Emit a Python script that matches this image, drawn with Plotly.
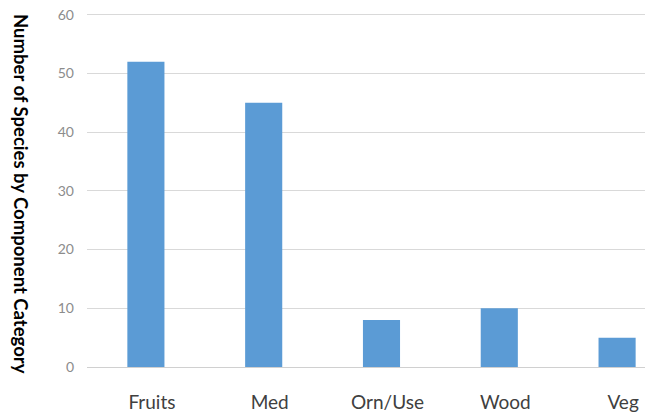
import plotly.graph_objects as go

categories = ["Fruits", "Med", "Orn/Use", "Wood", "Veg"]
species_counts = [52, 45, 8, 10, 5]
y_ticks = [0, 10, 20, 30, 40, 50, 60]

FIG_W, FIG_H = 645, 413
M_L, M_R, M_T, M_B = 87, 0, 13, 46
plot_w = FIG_W - M_L - M_R
plot_h = FIG_H - M_T - M_B

fig = go.Figure(
    go.Bar(
        x=categories,
        y=species_counts,
        marker=dict(color="#5b9bd5", line=dict(width=0)),
        width=0.315,
    )
)

fig.update_layout(
    width=FIG_W,
    height=FIG_H,
    margin=dict(l=M_L, r=M_R, t=M_T, b=M_B),
    paper_bgcolor="white",
    plot_bgcolor="white",
    showlegend=False,
    font=dict(family="Lato", color="#595959"),
    xaxis=dict(
        type="category",
        range=[-0.5, 4.237],
        showgrid=False,
        showline=False,
        ticks="",
        tickfont=dict(size=19, color="#404040"),
        ticklabelstandoff=22,
        ticklabelshift=6,
    ),
    yaxis=dict(
        range=[0, 60.3],
        tickvals=y_ticks,
        showgrid=True,
        gridcolor="#d9d9d9",
        gridwidth=1,
        zeroline=True,
        zerolinecolor="#d0d0d0",
        zerolinewidth=1,
        showline=False,
        ticks="",
        tickfont=dict(size=14, color="#8c8c8c"),
        ticklabelstandoff=12,
        ticklabeloverflow="allow",
    ),
    annotations=[
        dict(
            text="<b>Number of Species by Component Category</b>",
            xref="paper", yref="paper",
            x=(21 - M_L) / plot_w, y=(M_T + plot_h - 194) / plot_h,
            xanchor="center", yanchor="middle",
            textangle=90,
            showarrow=False,
            font=dict(family="Lato", size=18.5, color="#000000"),
        )
    ],
)

fig.write_html(
    "out.html",
    config={"displayModeBar": False},
    post_script="document.body.style.margin='0';document.body.style.overflow='hidden';",
)
